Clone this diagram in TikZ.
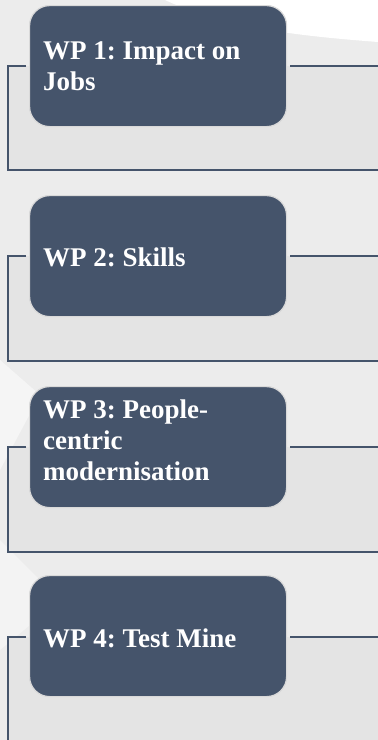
\documentclass[tikz,border=0pt]{standalone}
\usepackage{fontspec}
\setmainfont{Liberation Serif}
\definecolor{wpblue}{HTML}{45546B}
\definecolor{bggray}{HTML}{ECECEC}
\definecolor{framegray}{HTML}{E4E4E4}
\definecolor{glow}{HTML}{D9D9D9}
\begin{document}
\frenchspacing
\begin{tikzpicture}[x=1pt,y=-1pt,
  wpbox/.style={fill=wpblue, draw=glow, line width=1.2pt, rounded corners=20pt,
    minimum width=257pt, minimum height=121pt, anchor=north west, inner sep=0pt},
  wptext/.style={text=white, font=\bfseries\fontsize{27}{31}\selectfont,
    align=left, anchor=base west, inner sep=0pt},
  frameline/.style={draw=wpblue, line width=1.6pt},
  framefill/.style={fill=framegray}]
\useasboundingbox (0,0) rectangle (378,740);
\clip (0,0) rectangle (378,740);
% background
\fill[bggray] (0,0) rectangle (378,740);
\fill[white] (165,0) .. controls (225,28) and (300,36) .. (378,42) -- (378,0) -- cycle;
\fill[white, opacity=0.5] (0,360) -- (40,395) -- (0,470) -- cycle;
\fill[white, opacity=0.4] (0,540) -- (60,600) -- (0,650) -- cycle;
% frame corners
\coordinate (f1tl) at (8,66);   \coordinate (f1br) at (378,170);
\coordinate (f2tl) at (8,256);  \coordinate (f2br) at (378,361);
\coordinate (f3tl) at (8,447);  \coordinate (f3br) at (378,552);
\coordinate (f4tl) at (8,637);  \coordinate (f4br) at (378,745);
\foreach \i in {1,2,3,4}{
  \fill[framefill] (f\i tl) rectangle (f\i br);
}
% boxes
\node[wpbox] (b1) at (29,5) {};
\node[wpbox] (b2) at (29,195) {};
\node[wpbox] (b3) at (29,386) {};
\node[wpbox] (b4) at (29,575) {};
% texts (anchor = baseline of last line)
\node[wptext] (t1) at (43,90) {WP 1: Impact on\\Jobs};
\node[wptext] (t2) at (43,266) {WP 2: Skills};
\node[wptext] (t3) at (43,480) {WP 3: People-\\centric\\modernisation};
\node[wptext] (t4) at (43,647) {WP 4: Test Mine};
% frame lines
\foreach \i in {1,2,3,4}{
  \draw[frameline] ([xshift=-3pt]b\i.west |- f\i tl) -- (f\i tl) -- (f\i tl |- f\i br) -- (f\i br);
  \draw[frameline] ([xshift=3pt]b\i.east |- f\i tl) -- (f\i br |- f\i tl);
}
\end{tikzpicture}
\end{document}
